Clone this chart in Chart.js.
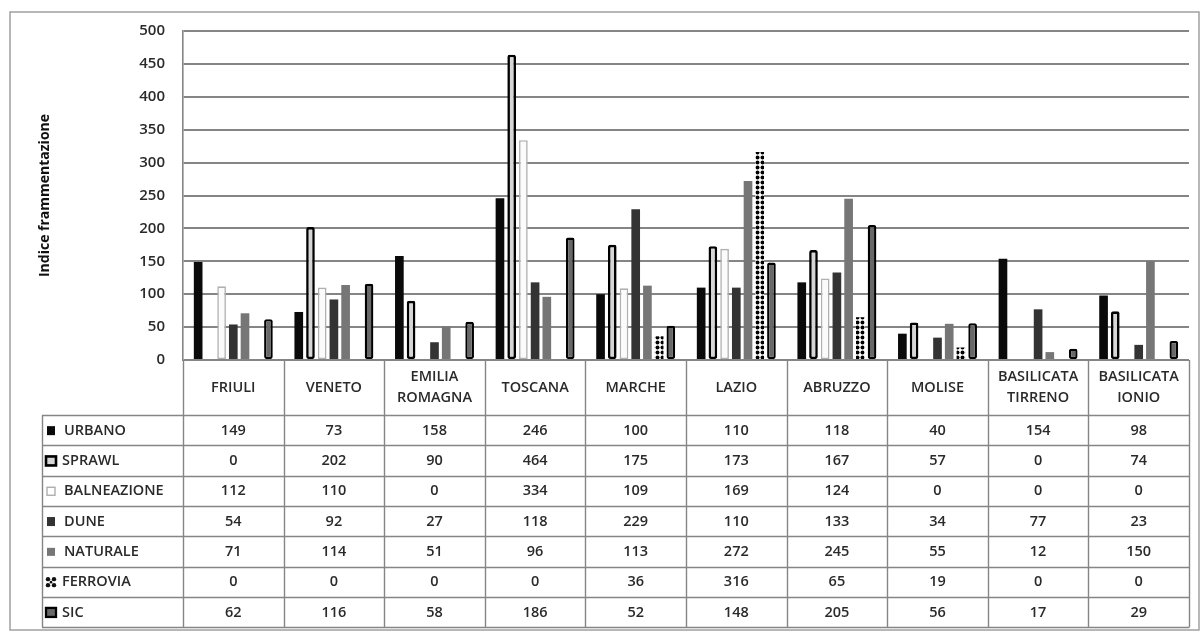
<!DOCTYPE html>
<html>
<head>
<meta charset="utf-8">
<script src="https://cdn.jsdelivr.net/npm/chart.js@4.4.1/dist/chart.umd.min.js"></script>
<style>
  html, body { margin: 0; padding: 0; background: #fff; }
  canvas { display: block; }
</style>
</head>
<body>
<canvas id="chart" width="1201" height="632"></canvas>
<script>
// Categories (coastal regions) – each entry is the list of header lines
const regions = [
  ['FRIULI'], ['VENETO'], ['EMILIA', 'ROMAGNA'], ['TOSCANA'], ['MARCHE'],
  ['LAZIO'], ['ABRUZZO'], ['MOLISE'], ['BASILICATA', 'TIRRENO'], ['BASILICATA', 'IONIO']
];

// Series names
const seriesNames = ['URBANO', 'SPRAWL', 'BALNEAZIONE', 'DUNE', 'NATURALE', 'FERROVIA', 'SIC'];

// Series values (fragmentation index per region)
const urbano      = [149, 73, 158, 246, 100, 110, 118, 40, 154, 98];
const sprawl      = [0, 202, 90, 464, 175, 173, 167, 57, 0, 74];
const balneazione = [112, 110, 0, 334, 109, 169, 124, 0, 0, 0];
const dune        = [54, 92, 27, 118, 229, 110, 133, 34, 77, 23];
const naturale    = [71, 114, 51, 96, 113, 272, 245, 55, 12, 150];
const ferrovia    = [0, 0, 0, 0, 36, 316, 65, 19, 0, 0];
const sic         = [62, 116, 58, 186, 52, 148, 205, 56, 17, 29];

// Value axis
const yMin = 0;
const yMax = 500;
const yStep = 50;
const yTitle = 'Indice frammentazione';

const FONT = "'Open Sans', 'DejaVu Sans', sans-serif";
const TEXT = '#2a2a2a';
const LINE = '#858585';

const ctxMain = document.getElementById('chart').getContext('2d');

// Dotted fill used for the railway series
const ferroviaFill = ctxMain.createPattern((() => {
  const t = document.createElement('canvas');
  t.width = 5; t.height = 5;
  const g = t.getContext('2d');
  g.fillStyle = '#ffffff'; g.fillRect(0, 0, 5, 5);
  g.fillStyle = '#000000'; g.beginPath(); g.arc(2.5, 2.5, 2.0, 0, Math.PI * 2); g.fill();
  return t;
})(), 'repeat');

const styles = [
  { backgroundColor: '#0a0a0a', borderWidth: 0 },
  { backgroundColor: '#d6d6d6', borderColor: '#000000', borderWidth: 2.6, borderSkipped: false, borderRadius: 2 },
  { backgroundColor: '#fbfbfb', borderColor: '#b0b0b0', borderWidth: 1.6, borderSkipped: false },
  { backgroundColor: '#333333', borderWidth: 0 },
  { backgroundColor: '#767676', borderWidth: 0 },
  { backgroundColor: ferroviaFill, borderWidth: 0 },
  { backgroundColor: '#686868', borderColor: '#000000', borderWidth: 2.3, borderSkipped: false, borderRadius: 2 }
];
const values = [urbano, sprawl, balneazione, dune, naturale, ferrovia, sic];

// Small legend key drawn at the start of each table row
function drawKey(ctx, i, cx, cy) {
  ctx.save();
  if (i === 0) { ctx.fillStyle = '#0a0a0a'; ctx.fillRect(cx - 4, cy - 4.5, 8, 9); }
  else if (i === 1) {
    ctx.fillStyle = '#d6d6d6'; ctx.fillRect(cx - 6, cy - 5.5, 12, 11);
    ctx.strokeStyle = '#000'; ctx.lineWidth = 2.6; ctx.strokeRect(cx - 5, cy - 4.5, 10, 9);
  }
  else if (i === 2) { ctx.fillStyle = '#fff'; ctx.fillRect(cx - 4, cy - 4, 8, 8); ctx.strokeStyle = '#a8a8a8'; ctx.lineWidth = 1.3; ctx.strokeRect(cx - 4, cy - 4, 8, 8); }
  else if (i === 3) { ctx.fillStyle = '#333333'; ctx.fillRect(cx - 4, cy - 4.5, 8, 9); }
  else if (i === 4) { ctx.fillStyle = '#767676'; ctx.fillRect(cx - 4, cy - 4, 8, 8); }
  else if (i === 5) {
    ctx.fillStyle = '#111';
    [[-3, -3], [3, -3], [-3, 3], [3, 3], [0, 0]].forEach(([dx, dy], k) => {
      ctx.beginPath(); ctx.arc(cx + dx, cy + dy, k === 4 ? 1.3 : 2.2, 0, Math.PI * 2); ctx.fill();
    });
  }
  else if (i === 6) {
    ctx.fillStyle = '#686868'; ctx.fillRect(cx - 6, cy - 5.5, 12, 11);
    ctx.strokeStyle = '#000'; ctx.lineWidth = 2.3; ctx.strokeRect(cx - 5, cy - 4.5, 10, 9);
  }
  ctx.restore();
}

// Data table drawn underneath the plot, aligned with the category scale
const dataTable = {
  id: 'dataTable',
  afterDraw(chart) {
    const { ctx, chartArea: a, scales: { x } } = chart;
    const n = regions.length;
    const colW = (a.right - a.left) / n;
    const labelLeft = 42;
    const headTop = a.bottom;
    const headBottom = headTop + 55;
    const rowH = 30.3;
    const bottom = headBottom + rowH * seriesNames.length;

    ctx.save();
    ctx.strokeStyle = LINE;
    ctx.lineWidth = 1.4;
    ctx.beginPath();
    // column separators (header + body)
    for (let i = 0; i <= n; i++) {
      const px = Math.round(a.left + i * colW) + 0.5;
      ctx.moveTo(px, headTop);
      ctx.lineTo(px, bottom);
    }
    ctx.moveTo(labelLeft + 0.5, headBottom);
    ctx.lineTo(labelLeft + 0.5, bottom);
    // row separators
    for (let r = 0; r <= seriesNames.length; r++) {
      const py = Math.round(headBottom + r * rowH) + 0.5;
      ctx.moveTo(labelLeft, py);
      ctx.lineTo(a.right + 0.5, py);
    }
    ctx.stroke();

    ctx.fillStyle = TEXT;
    ctx.font = '600 14.5px ' + FONT;
    ctx.textAlign = 'center';
    ctx.textBaseline = 'middle';
    // header
    regions.forEach((lines, i) => {
      const cx = x.getPixelForValue(i);
      const cy = (headTop + headBottom) / 2;
      const lh = 21;
      lines.forEach((t, k) => {
        ctx.fillText(t, cx, cy + (k - (lines.length - 1) / 2) * lh);
      });
    });
    // body
    seriesNames.forEach((name, r) => {
      const cy = headBottom + r * rowH + rowH / 2 + 0.5;
      ctx.textAlign = 'left';
      drawKey(ctx, r, 51, cy);
      ctx.fillStyle = TEXT;
      ctx.fillText(name, r === 1 || r === 5 || r === 6 ? 62 : 64, cy);
      ctx.textAlign = 'center';
      values[r].forEach((v, i) => ctx.fillText(String(v), x.getPixelForValue(i), cy));
    });
    ctx.restore();
  }
};

// White background and outer frame
const frame = {
  id: 'frame',
  beforeDraw(chart) {
    const { ctx, width, height } = chart;
    ctx.save();
    ctx.fillStyle = '#ffffff';
    ctx.fillRect(0, 0, width, height);
    ctx.strokeStyle = '#a0a0a0';
    ctx.lineWidth = 1.5;
    ctx.strokeRect(10, 12, width - 12, height - 14);
    ctx.restore();
  }
};

new Chart(ctxMain, {
  type: 'bar',
  data: {
    labels: regions.map(r => r.join(' ')),
    datasets: seriesNames.map((name, i) => Object.assign({ label: name, data: values[i] }, styles[i]))
  },
  options: {
    responsive: false,
    animation: false,
    devicePixelRatio: 1,
    layout: { padding: { top: 31, right: 12, bottom: 0, left: 0 } },
    datasets: { bar: { categoryPercentage: 0.815, barPercentage: 0.74 } },
    plugins: { legend: { display: false }, tooltip: { enabled: false }, title: { display: false } },
    scales: {
      x: {
        grid: { display: false },
        border: { display: false },
        ticks: { display: false },
        afterFit(s) { s.height = 272; }
      },
      y: {
        min: yMin,
        max: yMax,
        ticks: { stepSize: yStep, padding: 18, color: TEXT, font: { family: FONT, size: 15, weight: '600' } },
        grid: { color: LINE, lineWidth: 2, drawTicks: false },
        border: { display: true, color: LINE, width: 1.6 },
        title: {
          display: true, text: yTitle, color: '#111',
          font: { family: FONT, size: 14, weight: 'bold' },
          padding: { top: 37, bottom: 0 }
        },
        afterFit(s) { s.width = 183; }
      }
    }
  },
  plugins: [frame, dataTable]
});
</script>
</body>
</html>
